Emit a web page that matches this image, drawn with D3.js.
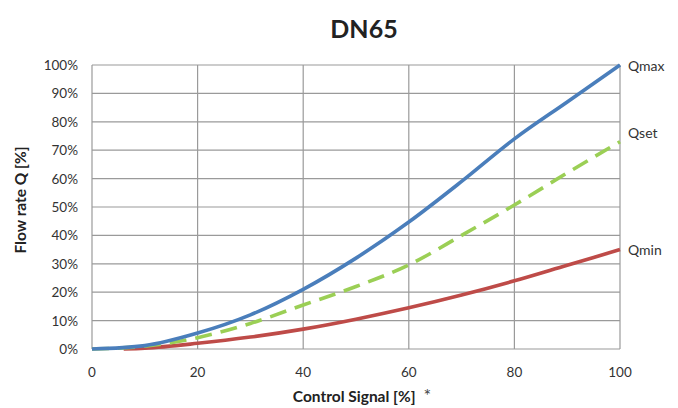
<!DOCTYPE html>
<html><head><meta charset="utf-8">
<script src="https://cdn.jsdelivr.net/npm/d3@7"></script>
<style>body{margin:0;background:#fff}svg{display:block}text{font-family:Lato,"Open Sans",sans-serif}</style>
</head><body><svg id="c" width="678" height="408"></svg>
<script>
const xTicks = [0,20,40,60,80,100];
const yTicks = [0,10,20,30,40,50,60,70,80,90,100];
const signal = [0,10,20,30,40,50,60,70,80,90,100];
const qmax = [0,1.2,5.6,12,21,32,44.7,59,74,87,100];
const qsetX = [0,10,20,30,40,50,60,70,80,90,100];
const qset = [0,1,4,9,15.5,22,29.6,40,50.7,62,73];
const qminX = [6,10,20,30,40,50,60,70,80,90,100];
const qmin = [0,0.3,2,4.2,7,10.5,14.5,19,24,29.5,35];

const svg = d3.select("#c");
const x = d3.scaleLinear().domain([0,100]).range([92,620]);
const y = d3.scaleLinear().domain([0,100]).range([349,65]);
const g = svg.append("g");

g.selectAll(".hg").data(yTicks).join("line")
  .attr("x1",x(0)).attr("x2",x(100)).attr("y1",d=>y(d)).attr("y2",d=>y(d))
  .attr("stroke","#9a9a9a").attr("stroke-width",1.2);
g.selectAll(".vg").data(xTicks).join("line")
  .attr("y1",y(0)).attr("y2",y(100)).attr("x1",d=>x(d)).attr("x2",d=>x(d))
  .attr("stroke","#9a9a9a").attr("stroke-width",1.2);

g.selectAll(".yl").data(yTicks).join("text")
  .attr("x",78).attr("y",d=>y(d)+5).attr("text-anchor","end")
  .attr("font-size",13.5).attr("fill","#333").text(d=>d+"%");
g.selectAll(".xl").data(xTicks).join("text")
  .attr("x",d=>x(d)).attr("y",377).attr("text-anchor","middle")
  .attr("font-size",13.5).attr("fill","#333").text(d=>d);

const line = d3.line().x(d=>x(d[0])).y(d=>y(d[1])).curve(d3.curveMonotoneX);
const series = [
  {xs:qminX, ys:qmin, c:"#BE4B48", dash:null, name:"Qmin", ly:y(35)+5},
  {xs:qsetX, ys:qset, c:"#9BCF55", dash:"17,9", name:"Qset", ly:y(73)-4},
  {xs:signal, ys:qmax, c:"#4A7EBB", dash:null, name:"Qmax", ly:y(100)+6}
];
series.forEach(s=>{
  g.append("path").datum(s.xs.map((v,i)=>[v,s.ys[i]]))
   .attr("d",line).attr("fill","none").attr("stroke",s.c)
   .attr("stroke-width",3.6).attr("stroke-dasharray",s.dash);
  g.append("text").attr("x",628).attr("y",s.ly).attr("font-size",14)
   .attr("fill","#333").text(s.name);
});

svg.append("text").attr("x",364).attr("y",38).attr("text-anchor","middle")
  .attr("font-size",25).attr("font-weight","bold").attr("fill","#222").text("DN65");
svg.append("text").attr("transform","translate(26,200) rotate(-90)")
  .attr("text-anchor","middle").attr("font-size",15.5).attr("font-weight","bold")
  .attr("fill","#222").text("Flow rate Q [%]");
const xl = svg.append("text").attr("x",362).attr("y",402).attr("text-anchor","middle")
  .attr("font-size",15.5).attr("fill","#222");
xl.append("tspan").attr("font-weight","bold").text("Control Signal [%]");
xl.append("tspan").attr("dx",8).attr("fill","#444").attr("font-size",18).text("*");
</script></body></html>
